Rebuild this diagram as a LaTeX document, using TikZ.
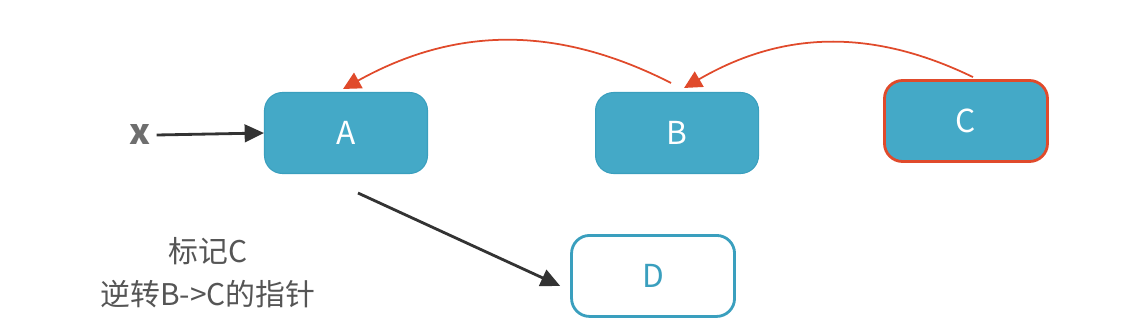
\documentclass[tikz,border=0pt]{standalone}
\usepackage{xcolor}
\usepackage{fontspec}
\setmainfont{Noto Sans CJK SC}
\usepackage{tikz}
\usetikzlibrary{arrows.meta, positioning}

\definecolor{tealfill}{HTML}{44A9C7}
\definecolor{tealline}{HTML}{3A9FBE}
\definecolor{markred}{HTML}{E04A2B}
\definecolor{inkgray}{HTML}{555555}
\definecolor{inkdark}{HTML}{333333}

\begin{document}
\begin{tikzpicture}[
            objbox/.style  ={rectangle, rounded corners=0.36cm, draw=tealline, fill=tealfill,
                             minimum width=3.26cm, minimum height=1.62cm, line width=0.6pt,
                             text=white, font=\fontsize{18pt}{20pt}\selectfont},
            marked/.style  ={objbox, draw=markred, line width=1.6pt},
            freebox/.style ={objbox, fill=white, draw=tealline, line width=1.6pt, text=tealline},
            ptr/.style     ={-{Triangle[length=11pt, width=10pt]}, line width=1.6pt, inkdark},
            flip/.style    ={-{Triangle[length=10pt, width=10pt]}, line width=1pt, markred}
        ]
            \useasboundingbox (0,0) rectangle (22.84,6.58);

            % --- Nodos ---
            \node[objbox] (a) at (6.92,3.92) {A};
            \node[objbox,  right=3.34cm of a]               (b) {B};
            \node[marked,  right=2.48cm of b, yshift=0.24cm] (c) {C};
            \node[freebox, below=1.2cm of b, xshift=-0.48cm] (d) {D};
            \node[text=inkgray!85, font=\fontsize{20pt}{20pt}\selectfont\bfseries] (x) at (2.8,3.88) {x};

            % --- Nota ---
            \node[text=inkgray, align=center, font=\fontsize{17pt}{24.5pt}\selectfont] (nota) at (4.16,1.12)
                 {标记C\\逆转B->C的指针};

            % --- Enlaces ---
            \draw[ptr] (x.east) -- (a.west);
            \draw[ptr] ([xshift=0.24cm,yshift=-0.38cm]a.south) -- ([xshift=-0.2cm,yshift=-0.2cm]d.west);

            % Punteros invertidos
            \draw[flip] ([xshift=-0.12cm,yshift=0.18cm]b.north) to[bend right=28] ([xshift=-0.06cm,yshift=0.06cm]a.north);
            \draw[flip] ([xshift=0.14cm,yshift=0.04cm]c.north) to[bend right=28] ([xshift=0.14cm,yshift=0.08cm]b.north);

        \end{tikzpicture}
\end{document}
